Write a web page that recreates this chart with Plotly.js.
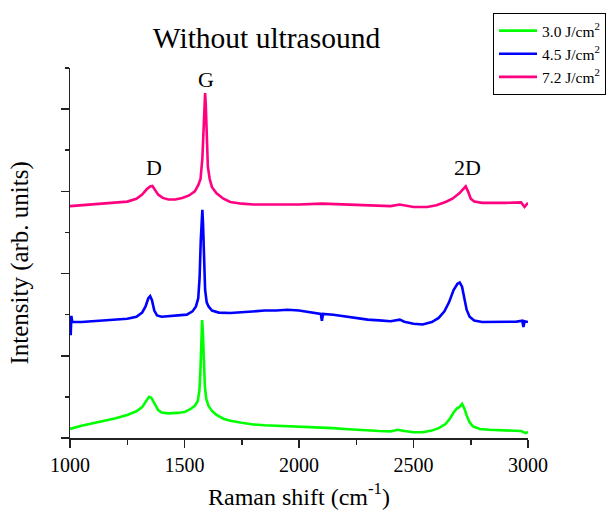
<!DOCTYPE html>
<html>
<head>
<meta charset="utf-8">
<script src="https://cdn.plot.ly/plotly-3.0.1.min.js"></script>
<style>html,body{margin:0;padding:0;background:#fff;}#chart{width:612px;height:514px;}</style>
</head>
<body>
<div id="chart"></div>
<script>
// ---- Data ----
const seriesNames = ['3.0 J/cm<sup>2</sup>', '4.5 J/cm<sup>2</sup>', '7.2 J/cm<sup>2</sup>'];
const seriesColors = ['#00ff00', '#0000ff', '#ff0080'];

// 3.0 J/cm2 (green)
const xGreen = [1000,1050,1100,1150,1200,1250,1290,1315,1330,1345,1355,1368,1385,1400,1430,1470,1500,1525,1545,1558,1565,1570,1574,1577,1580,1584,1589,1595,1605,1620,1640,1670,1700,1750,1800,1850,1900,1950,2000,2050,2100,2150,2200,2250,2300,2350,2400,2430,2460,2500,2540,2580,2610,2640,2660,2675,2690,2700,2712,2722,2732,2745,2760,2790,2830,2880,2930,2970,2990,3000];
const yGreen = [0.22,0.30,0.36,0.42,0.48,0.56,0.65,0.75,0.87,1.00,0.98,0.85,0.68,0.62,0.60,0.61,0.63,0.70,0.78,0.90,1.15,1.70,2.50,2.87,2.60,1.90,1.25,0.95,0.78,0.66,0.56,0.47,0.42,0.37,0.33,0.31,0.30,0.29,0.28,0.27,0.25,0.24,0.22,0.20,0.18,0.17,0.16,0.20,0.17,0.14,0.14,0.18,0.24,0.34,0.48,0.62,0.72,0.75,0.83,0.72,0.55,0.38,0.28,0.22,0.20,0.19,0.18,0.17,0.12,0.15];

// 4.5 J/cm2 (blue)
const xBlue = [1000,1003,1006,1010,1050,1100,1150,1200,1250,1290,1315,1330,1342,1350,1358,1368,1380,1400,1440,1480,1510,1535,1550,1560,1566,1571,1575,1578,1581,1585,1590,1597,1605,1620,1650,1700,1750,1800,1850,1900,1950,2000,2050,2095,2100,2105,2150,2200,2250,2300,2350,2400,2440,2460,2500,2540,2580,2610,2635,2655,2675,2692,2702,2712,2722,2732,2745,2765,2800,2850,2900,2950,2975,2980,2985,3000];
const yBlue = [2.80,2.50,2.97,2.82,2.82,2.84,2.86,2.88,2.90,2.95,3.05,3.20,3.40,3.45,3.35,3.10,2.98,2.95,2.97,2.98,3.00,3.08,3.20,3.40,3.90,4.80,5.40,5.55,5.20,4.30,3.60,3.30,3.20,3.10,3.05,3.04,3.06,3.08,3.10,3.10,3.12,3.10,3.05,3.02,2.85,3.02,3.00,2.96,2.92,2.88,2.86,2.84,2.88,2.83,2.78,2.76,2.82,2.92,3.08,3.30,3.60,3.75,3.78,3.68,3.40,3.12,2.95,2.86,2.82,2.82,2.82,2.83,2.85,2.70,2.84,2.82];

// 7.2 J/cm2 (pink)
const xPink = [1000,1050,1100,1150,1200,1250,1290,1315,1335,1350,1360,1370,1385,1405,1430,1460,1490,1520,1545,1560,1570,1578,1583,1587,1590,1593,1597,1602,1610,1620,1640,1670,1700,1750,1800,1900,2000,2100,2200,2300,2400,2440,2500,2560,2600,2640,2670,2700,2715,2728,2738,2750,2765,2800,2900,2970,2985,3000];
const yPink = [5.64,5.66,5.68,5.70,5.72,5.75,5.82,5.92,6.05,6.12,6.13,6.05,5.92,5.84,5.80,5.80,5.84,5.90,6.00,6.15,6.30,6.80,7.60,8.20,8.39,8.10,7.30,6.60,6.30,6.10,5.95,5.82,5.74,5.70,5.68,5.68,5.68,5.70,5.68,5.66,5.64,5.68,5.62,5.62,5.66,5.74,5.82,5.95,6.05,6.12,6.00,5.82,5.75,5.72,5.72,5.73,5.62,5.72];

// Peak labels
const peakLabels = ['D', 'G', '2D'];
const peakX = [1365, 1596, 2734];
const peakY = [6.57, 8.71, 6.57];

const xTickVals = [1000, 1500, 2000, 2500, 3000];

// ---- Chart ----
const serif = '"Liberation Serif", "Times New Roman", serif';
const xs = [xGreen, xBlue, xPink];
const ys = [yGreen, yBlue, yPink];
const traces = xs.map((x, i) => ({
  type: 'scatter', mode: 'lines', x: x, y: ys[i], name: seriesNames[i],
  line: {color: seriesColors[i], width: 2.6}
}));

const annotations = peakLabels.map((t, i) => ({
  text: t, x: peakX[i], y: peakY[i], xref: 'x', yref: 'y',
  showarrow: false, xanchor: 'center', yanchor: 'middle',
  font: {family: serif, size: 22, color: '#000'}
}));
annotations.push({
  text: 'Intensity (arb. units)', xref: 'paper', yref: 'paper',
  x: -0.11, y: 0.473, xanchor: 'center', yanchor: 'middle', textangle: -90,
  showarrow: false, font: {family: serif, size: 25, color: '#000'}
});

const layout = {
  width: 612, height: 514,
  margin: {l: 70, r: 84, t: 68, b: 76, autoexpand: false},
  paper_bgcolor: '#fff', plot_bgcolor: '#fff',
  font: {family: serif, color: '#000'},
  title: {text: 'Without ultrasound', x: 266.5/612, xref: 'container', xanchor: 'center',
          y: 1 - 38/514, yref: 'container', yanchor: 'middle',
          font: {family: serif, size: 29.5, color: '#000'}},
  showlegend: true,
  legend: {x: 493/612, xref: 'container', y: 1 - 13/514, yref: 'container',
           xanchor: 'left', yanchor: 'top', bgcolor: '#fff', bordercolor: '#000', borderwidth: 1,
           itemwidth: 38,
           font: {family: serif, size: 15.5, color: '#000'}, tracegroupgap: 0},
  xaxis: {
    range: [1000, 3000], showgrid: false, zeroline: false,
    showline: true, linecolor: '#222', linewidth: 1.5,
    ticks: 'outside', ticklen: 8, tickwidth: 1.5, tickcolor: '#222',
    tickvals: xTickVals, ticktext: xTickVals.map(String),
    tickfont: {family: serif, size: 20, color: '#000'},
    minor: {dtick: 250, tick0: 1000, ticks: 'outside', ticklen: 5, tickwidth: 1.5, tickcolor: '#222', showgrid: false},
    title: {text: 'Raman shift (cm<sup>-1</sup>)', font: {family: serif, size: 24, color: '#000'}, standoff: 13}
  },
  yaxis: {
    range: [0, 9], showgrid: false, zeroline: false,
    showline: true, linecolor: '#222', linewidth: 1.5,
    ticks: 'outside', ticklen: 8, tickwidth: 1.5, tickcolor: '#222',
    tick0: 0, dtick: 2, showticklabels: false,
    minor: {dtick: 1, tick0: 0, ticks: 'outside', ticklen: 4, tickwidth: 1.5, tickcolor: '#222', showgrid: false}
  },
  annotations: annotations
};

Plotly.newPlot('chart', traces, layout, {displayModeBar: false, staticPlot: true});
</script>
</body>
</html>
